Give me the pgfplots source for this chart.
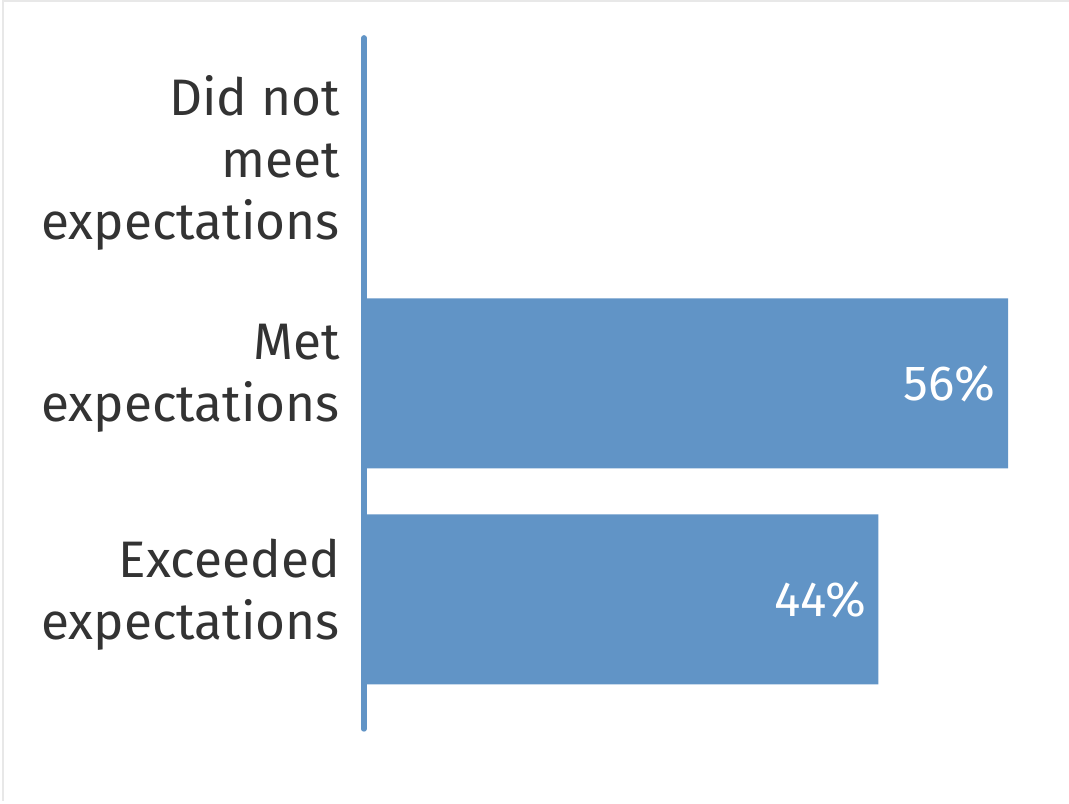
\documentclass[border=0pt]{standalone}
\usepackage{pgfplots}
\pgfplotsset{compat=1.18}
\usepackage{fontspec}
\setmainfont{Fira Sans}
\definecolor{barblue}{RGB}{97,148,198}
\definecolor{labelgrey}{RGB}{51,51,51}
\begin{document}
\begin{tikzpicture}[x=0.75pt,y=0.75pt]
% page frame in pixel units (1px = 0.75pt); axis south west sits at pixel (364,729)
\useasboundingbox (-364,-74) rectangle (705,729);
\draw[gray!18, line width=1.5] (-361,-72) -- (-361,728) -- (705,728);
\begin{axis}[
  at={(0,0)}, anchor=south west,
  scale only axis,
  width=483pt,
  height=518.4pt,
  xbar,
  bar width=0.787,
  y dir=reverse,
  xmin=0, xmax=55.6,
  ymin=-0.6, ymax=2.6,
  axis x line=none,
  axis y line=left,
  y axis line style={barblue, line width=4pt, line cap=round, -},
  ytick={0,1,2},
  yticklabels={{Did not\\meet\\expectations},{Met\\expectations},{Exceeded\\expectations}},
  major tick length=0pt,
  tick style={draw=none},
  yticklabel style={align=right, inner sep=0pt, xshift=-18pt, yshift=3.5pt, text=labelgrey,
    font=\fontsize{38.5}{46.5}\selectfont},
  point meta=explicit symbolic,
  nodes near coords,
  every node near coord/.append style={anchor=east, inner sep=0pt, xshift=-9pt,
    text=white, font=\fontsize{37}{46.5}\selectfont},
  clip=false,
]
% shares as drawn (55.6 / 44.4), labelled rounded
\addplot[fill=barblue, draw=none] coordinates {
  (0,0) []
  (55.6,1) [56\%]
  (44.4,2) [44\%]
};
\end{axis}
\end{tikzpicture}
\end{document}
